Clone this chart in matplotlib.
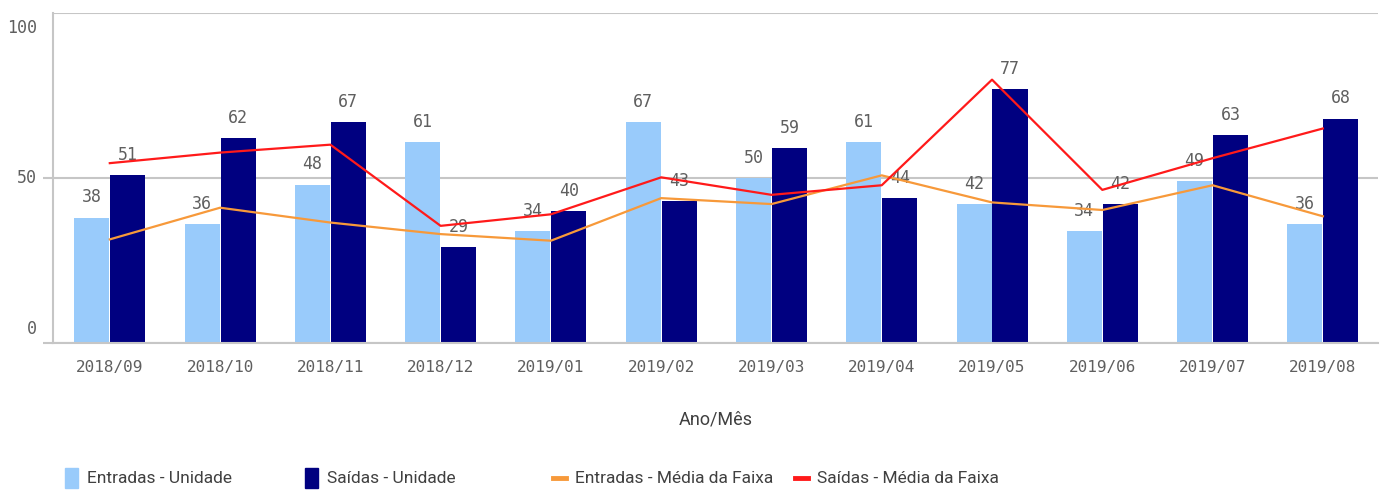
import numpy as np
import matplotlib
matplotlib.use("Agg")
import matplotlib.pyplot as plt
from matplotlib.patches import Rectangle
from matplotlib.lines import Line2D
from matplotlib.transforms import offset_copy

# data
meses = ["2018/09", "2018/10", "2018/11", "2018/12", "2019/01", "2019/02",
         "2019/03", "2019/04", "2019/05", "2019/06", "2019/07", "2019/08"]
entradas_unidade = [38, 36, 48, 61, 34, 67, 50, 61, 42, 34, 49, 36]
saidas_unidade = [51, 62, 67, 29, 40, 43, 59, 44, 77, 42, 63, 68]
entradas_media = [31.4, 41, 36.5, 33, 31, 43.9, 42.1, 50.8, 42.6, 40.3, 47.8, 38.4]
saidas_media = [54.5, 57.7, 60.1, 35.5, 39, 50.2, 44.9, 47.8, 79.8, 46.4, 56, 65]
y_ticks = [0, 50, 100]
legend_labels = ["Entradas - Unidade", "Saídas - Unidade",
                 "Entradas - Média da Faixa", "Saídas - Média da Faixa"]

c_light = "#99cbfb"
c_dark = "#000080"
c_orange = "#f7993a"
c_red = "#ff1a1a"
c_text = "#5f5f5f"
c_grid = "#c6c6c6"

mono = ["DejaVu Sans Mono"]
narrow = ["Roboto", "DejaVu Sans"]

fig = plt.figure(figsize=(13.83, 4.9), dpi=100)
ax = fig.add_axes([53 / 1383, 1 - 343 / 490, 1325 / 1383, 330 / 490])

x = np.arange(len(meses))
w = 0.318
b1 = ax.bar(x - w / 2 - 0.004, entradas_unidade, w, color=c_light, zorder=2)
b2 = ax.bar(x + w / 2 + 0.004, saidas_unidade, w, color=c_dark, zorder=2)

for bars, vals in ((b1, entradas_unidade), (b2, saidas_unidade)):
    for r, v in zip(bars, vals):
        ax.annotate(str(v), (r.get_x() + r.get_width() / 2, v),
                    xytext=(0, 8), textcoords="offset points",
                    ha="center", va="bottom", fontsize=12,
                    family=mono, color=c_text, zorder=3)

ax.plot(x, entradas_media, color=c_orange, lw=1.6, zorder=4)
ax.plot(x, saidas_media, color=c_red, lw=1.6, zorder=4)

ax.set_xlim(-0.515, 11.5)
ax.set_ylim(0, 100)
ax.set_yticks(y_ticks)
ax.set_yticklabels([])
ax.yaxis.grid(True, color=c_grid, lw=1.5, zorder=0)
ax.set_axisbelow(True)

for s in ("top", "right"):
    ax.spines[s].set_visible(False)
for s in ("left", "bottom"):
    ax.spines[s].set_color(c_grid)
    ax.spines[s].set_linewidth(1.5)

ax.tick_params(axis="y", length=7, width=1.5, color=c_grid)
ax.tick_params(axis="x", length=0, pad=12, labelsize=11.5, labelcolor=c_text)
ax.yaxis.get_major_ticks()[2].tick1line.set_visible(False)

# y labels: edge ones pulled inward like the original
ytr = ax.get_yaxis_transform()
for v in y_ticks:
    dy = 14 if v == 0 else (-15 if v == 100 else 0)
    t = offset_copy(ytr, fig=fig, x=-16, y=dy, units="dots")
    ax.text(0, v, str(v), transform=t, ha="right", va="center",
            fontsize=12, family=mono, color=c_text)

ax.set_xticks(x)
ax.set_xticklabels(meses, family=mono)
ax.set_xlabel("Ano/Mês", fontsize=13, color="#404040", family=narrow,
              labelpad=26)

# legend drawn by hand along the bottom
leg_x = [65, 305, 553, 795]
leg_y = 1 - 478 / 490
for i, (lx, lab) in enumerate(zip(leg_x, legend_labels)):
    if i < 2:
        col = c_light if i == 0 else c_dark
        fig.add_artist(Rectangle((lx / 1383, leg_y - 10 / 490), 13 / 1383, 20 / 490,
                                 transform=fig.transFigure, color=col))
    else:
        col = c_orange if i == 2 else c_red
        fig.add_artist(Line2D([lx / 1383, (lx + 13) / 1383], [leg_y, leg_y],
                              transform=fig.transFigure, color=col, lw=3.5))
    fig.text((lx + 22) / 1383, leg_y, lab, fontsize=12.5, color="#404040",
             family=narrow, va="center", ha="left")

fig.savefig("out.png", dpi=100)
